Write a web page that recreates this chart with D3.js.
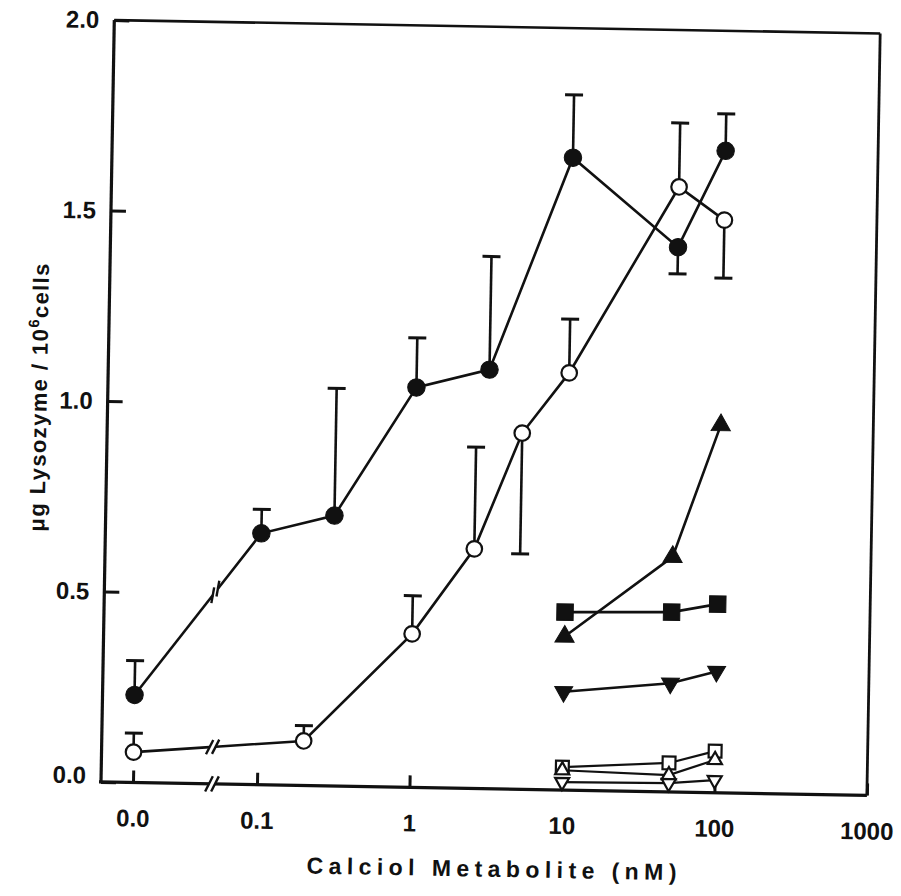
<!DOCTYPE html>
<html>
<head>
<meta charset="utf-8">
<script src="https://cdn.jsdelivr.net/npm/d3@7"></script>
<style>
  body { margin: 0; background: #fff; }
  svg text { font-family: "Liberation Sans", Arial, sans-serif; font-weight: bold; fill: #111; }
</style>
</head>
<body>
<svg id="chart"></svg>
<script>
// Calciol metabolite concentrations (nM); 0 sits left of the axis break
const concFilledCircle = [0, 0.1, 0.3, 1, 3, 10, 50, 100];
const lysoFilledCircle = [0.23, 0.66, 0.71, 1.05, 1.10, 1.66, 1.43, 1.685];
const errFilledCircle = [0.09, 0.063, 0.334, 0.13, 0.297, 0.165, -0.07, 0.097]; // negative = bar drawn down

const concOpenCircle = [0, 0.2, 1, 2.5, 5, 10, 50, 100];
const lysoOpenCircle = [0.08, 0.117, 0.403, 0.629, 0.935, 1.095, 1.588, 1.503];
const errOpenCircle = [0.05, 0.04, 0.10, 0.267, -0.317, 0.141, 0.168, -0.152];

const concOther = [10, 50, 100];
const lysoFilledSquare = [0.467, 0.472, 0.495];
const lysoFilledUp = [0.403, 0.617, 0.965];
const lysoFilledDown = [0.258, 0.285, 0.318];
const lysoOpenSquare = [0.060, 0.076, 0.109];
const lysoOpenUp = [0.052, 0.044, 0.086];
const lysoOpenDown = [0.021, 0.023, 0.033];

const xTicks = [0.1, 1, 10, 100, 1000];
const xTickLabels = ['0.1', '1', '10', '100', '1000'];
const yTicks = [0, 0.5, 1.0, 1.5, 2.0];

const width = 766, height = 762;
const margin = { left: 101, top: 20 };

const svg = d3.select('#chart')
  .attr('width', 901)
  .attr('height', 896);

// the scanned figure is tilted by about one degree
const g = svg.append('g')
  .attr('transform', `rotate(1, ${margin.left}, ${margin.top + height}) translate(${margin.left},${margin.top})`);

const x = d3.scaleLog()
  .domain([0.1, 1000])
  .range([156, width]);
const xZero = 32;
const breakX = 111;
const xPos = c => c === 0 ? xZero : x(c);

const y = d3.scaleLinear()
  .domain([0, 2])
  .range([height, 0]);

// Axes
const xAxis = d3.axisBottom(x)
  .tickValues(xTicks)
  .tickFormat((d, i) => xTickLabels[i])
  .tickSizeInner(-12)
  .tickSizeOuter(0)
  .tickPadding(27);

const xAxisG = g.append('g')
  .attr('transform', `translate(0,${height})`)
  .call(xAxis);
xAxisG.select('.domain').remove();

const zeroScale = d3.scaleLinear().domain([0, 1]).range([xZero, xZero + 1]);
const zeroAxisG = g.append('g')
  .attr('transform', `translate(0,${height})`)
  .call(d3.axisBottom(zeroScale).tickValues([0]).tickFormat(() => '0.0')
    .tickSizeInner(-12).tickSizeOuter(0).tickPadding(27));
zeroAxisG.select('.domain').remove();

const yAxis = d3.axisLeft(y)
  .tickValues(yTicks)
  .tickFormat(d3.format('.1f'))
  .tickSizeInner(-15)
  .tickSizeOuter(0)
  .tickPadding(15);
const yAxisG = g.append('g').call(yAxis);
yAxisG.select('.domain').remove();
yAxisG.selectAll('text').filter(d => d === 0).attr('dy', '0.05em');

g.selectAll('.tick line').attr('stroke', '#111').attr('stroke-width', 3);
g.selectAll('.tick text').attr('font-size', 24).attr('fill', '#111');

// frame
g.append('line').attr('x1', 0).attr('y1', 0).attr('x2', 0).attr('y2', height)
  .attr('stroke', '#111').attr('stroke-width', 3.2);
g.append('line').attr('x1', -2).attr('y1', height).attr('x2', width).attr('y2', height)
  .attr('stroke', '#111').attr('stroke-width', 3.2);
g.append('line').attr('x1', 0).attr('y1', 0).attr('x2', width).attr('y2', 0)
  .attr('stroke', '#111').attr('stroke-width', 2.6);
g.append('line').attr('x1', width).attr('y1', 0).attr('x2', width).attr('y2', height)
  .attr('stroke', '#111').attr('stroke-width', 2.8);

// short "/" mark, angle in degrees from horizontal
function slash(sel, cx, cy, len, angle) {
  const a = angle * Math.PI / 180;
  const dx = Math.cos(a) * len / 2, dy = Math.sin(a) * len / 2;
  sel.append('line')
    .attr('x1', cx - dx).attr('y1', cy + dy)
    .attr('x2', cx + dx).attr('y2', cy - dy)
    .attr('stroke', '#111').attr('stroke-width', 2.4);
}

// axis break
g.append('rect')
  .attr('x', breakX - 3).attr('y', height - 3).attr('width', 6).attr('height', 6)
  .attr('fill', '#fff');
slash(g, breakX - 3, height, 17, 64);
slash(g, breakX + 3, height, 17, 64);

// Series
const line = d3.line();

function drawLine(conc, vals, strokeWidth) {
  const pts = conc.map((c, i) => [xPos(c), y(vals[i])]);
  const lg = g.append('g');
  const style = p => p.attr('fill', 'none').attr('stroke', '#111').attr('stroke-width', strokeWidth);
  if (conc[0] === 0) {
    const p0 = pts[0], p1 = pts[1];
    const lineAngle = Math.atan2(p0[1] - p1[1], p1[0] - p0[0]) * 180 / Math.PI;
    const gap = lineAngle > 30 ? 2.5 : 3;
    const at = xx => [xx, p0[1] + (p1[1] - p0[1]) * (xx - p0[0]) / (p1[0] - p0[0])];
    const a = at(breakX - gap), b = at(breakX + gap);
    lg.append('path').attr('d', line([p0, a])).call(style);
    lg.append('path').attr('d', line([b, ...pts.slice(1)])).call(style);
    const ang = Math.max(64, lineAngle + 28);
    slash(lg, a[0], a[1], 16, ang);
    slash(lg, b[0], b[1], 16, ang);
  } else {
    lg.append('path').attr('d', line(pts)).call(style);
  }
}

function drawErrors(conc, vals, errs) {
  const eg = g.append('g');
  conc.forEach((c, i) => {
    const cx = xPos(c);
    const y1 = y(vals[i]);
    const y2 = y(vals[i] + errs[i]);
    eg.append('line').attr('x1', cx).attr('x2', cx).attr('y1', y1).attr('y2', y2)
      .attr('stroke', '#111').attr('stroke-width', 2.6);
    eg.append('line').attr('x1', cx - 9).attr('x2', cx + 9).attr('y1', y2).attr('y2', y2)
      .attr('stroke', '#111').attr('stroke-width', 3);
  });
}

function drawMarkers(conc, vals, type, size, filled, rotate) {
  const sym = d3.symbol().type(type).size(size);
  g.append('g').selectAll('path')
    .data(conc.map((c, i) => [xPos(c), y(vals[i])]))
    .join('path')
      .attr('d', sym)
      .attr('transform', d => `translate(${d[0]},${d[1]})` + (rotate ? ' rotate(180)' : ''))
      .attr('fill', filled ? '#111' : '#fff')
      .attr('stroke', '#111')
      .attr('stroke-width', filled ? 1 : 2.2);
}

drawLine(concFilledCircle, lysoFilledCircle, 2.6);
drawLine(concOpenCircle, lysoOpenCircle, 2.6);
drawLine(concOther, lysoFilledSquare, 2.6);
drawLine(concOther, lysoFilledUp, 2.6);
drawLine(concOther, lysoFilledDown, 2.6);
drawLine(concOther, lysoOpenSquare, 2.2);
drawLine(concOther, lysoOpenUp, 2.2);
drawLine(concOther, lysoOpenDown, 2.2);

drawErrors(concFilledCircle, lysoFilledCircle, errFilledCircle);
drawErrors(concOpenCircle, lysoOpenCircle, errOpenCircle);

drawMarkers(concFilledCircle, lysoFilledCircle, d3.symbolCircle, 240, true);
drawMarkers(concOpenCircle, lysoOpenCircle, d3.symbolCircle, 190, false);
drawMarkers(concOther, lysoFilledSquare, d3.symbolSquare, 270, true);
drawMarkers(concOther, lysoFilledUp, d3.symbolTriangle, 160, true);
drawMarkers(concOther, lysoFilledDown, d3.symbolTriangle, 140, true, true);
drawMarkers(concOther, lysoOpenSquare, d3.symbolSquare, 165, false);
drawMarkers(concOther, lysoOpenUp, d3.symbolTriangle, 85, false);
drawMarkers(concOther, lysoOpenDown, d3.symbolTriangle, 85, false, true);

// Axis titles
g.append('text')
  .attr('x', 392)
  .attr('y', height + 88)
  .attr('text-anchor', 'middle')
  .attr('font-size', 23)
  .attr('textLength', 370)
  .attr('lengthAdjust', 'spacing')
  .text('Calciol  Metabolite  (nM)');

const yLabel = g.append('text')
  .attr('transform', 'rotate(-90)')
  .attr('x', -378)
  .attr('y', -61)
  .attr('text-anchor', 'middle')
  .attr('font-size', 22)
  .attr('letter-spacing', 1.4);
yLabel.append('tspan').text('μg Lysozyme / 10');
yLabel.append('tspan').attr('font-size', 15).attr('dy', -9).text('6');
yLabel.append('tspan').attr('dy', 9).text('cells');
</script>
</body>
</html>
